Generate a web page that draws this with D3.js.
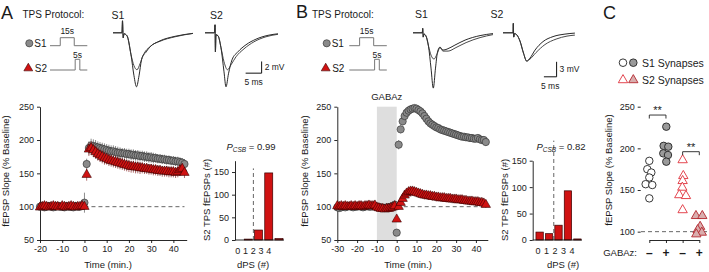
<!DOCTYPE html>
<html>
<head>
<meta charset="utf-8">
<script src="https://cdn.jsdelivr.net/npm/d3@7/dist/d3.min.js"></script>
<style>
  body { margin: 0; background: #fff; }
  svg { display: block; font-family: "Liberation Sans", Arial, sans-serif; }
</style>
</head>
<body>
<svg id="fig" width="709" height="272"></svg>
<script>
// ---- time course, panel A (min, % baseline) ----
var timeA = [-20,-19,-18,-17,-16,-15,-14,-13,-12,-11,-10,-9,-8,-7,-6,-5,-4,-3,-2,-1,
  0,1,2,3,4,5,6,7,8,9,10,11,12,13,14,15,16,17,18,19,20,21,22,23,24,25,26,27,28,29,
  30,31,32,33,34,35,36,37,38,39,40,41,42,43,44,45];
var s1A = [100,101,99,100,101,100,99,100,101,100,100,99,101,100,100,99,101,100,100,101,
  106,164,
  188,192,191,190,189,188,187,186,185,184,
  183,183,182,181,181,180,180,179,179,178,
  178,177,177,176,176,175,175,174,174,173,
  173,172,172,171,171,170,170,169,169,168,
  168,167,166,164];
var s1AErr = [3,3,3,3,3,3,3,3,3,3,3,3,3,3,3,3,3,3,3,3,
  15,8,
  10,10,10,10,9,9,9,9,9,9,
  9,9,9,9,8,8,8,8,8,8,
  8,8,8,8,8,8,8,8,8,8,
  7,7,7,7,7,7,7,7,7,7,
  7,7,7,7];
var s2A = [99,100,101,100,99,100,101,100,100,99,101,100,99,100,101,100,99,100,100,101,
  100,148,
  186,188,185,182,179,177,175,173,172,170,
  169,168,167,166,165,164,163,162,161,160,
  160,159,159,158,158,157,157,156,156,155,
  155,154,154,153,153,153,152,152,152,151,
  152,155,157,151];
var s2AErr = [3,3,3,3,3,3,3,3,3,3,3,3,3,3,3,3,3,3,3,3,
  3,9,
  10,10,10,10,10,10,10,10,9,9,
  9,9,9,9,9,9,9,9,9,9,
  9,9,9,9,8,8,8,8,8,8,
  8,8,8,8,8,8,8,8,8,8,
  8,8,8,8];

// ---- time course, panel B ----
var timeB = [-30,-29,-28,-27,-26,-25,-24,-23,-22,-21,-20,-19,-18,-17,-16,-15,-14,-13,-12,-11,
  -10,-9,-8,-7,-6,-5,-4,-3,-2,-1,
  0,1,2,3,4,5,6,7,8,9,10,11,12,13,14,15,16,17,18,19,20,21,22,23,24,25,26,27,28,29,
  30,31,32,33,34,35,36,37,38,39,40,41,42,43,44,45];
var s1B = [99,98,99,100,99,100,101,100,99,100,
  100,101,100,99,100,101,100,100,101,100,
  100,99,99,98,98,99,99,100,101,103,
  61,
  193,216,228,236,241,244,246,247,248,247,
  245,243,240,236,232,228,225,223,221,219,
  218,216,215,214,213,212,211,210,209,208,
  207,206,205,205,204,204,203,203,202,202,
  203,201,200,200,197];
var s1BErr = [3,3,3,3,3,3,3,3,3,3,3,3,3,3,3,3,3,3,3,3,3,3,3,3,3,3,3,3,3,3,
  5,
  7,6,6,6,5,5,5,5,5,5,
  5,5,5,5,5,5,5,5,5,5,
  5,5,5,5,5,5,5,5,5,5,
  5,5,5,5,5,5,5,5,5,5,
  5,5,5,5,6];
var s2B = [101,100,101,100,101,100,100,101,100,101,
  100,101,101,100,101,101,102,101,101,102,
  99,98,97,97,96,97,97,98,99,101,
  81,
  100,106,112,117,120,122,123,123,122,121,
  120,119,118,117,117,116,116,115,115,114,
  114,113,113,113,112,112,112,111,111,111,
  110,110,110,109,109,108,108,108,107,107,
  107,106,106,105,103];
var s2BErr = [3,3,3,3,3,3,3,3,3,3,3,3,3,3,3,3,3,3,3,3,3,3,3,3,3,3,3,3,3,3,
  3,
  5,6,6,6,6,6,6,6,6,6,
  6,6,6,6,6,6,6,6,6,6,
  6,6,6,6,6,6,6,6,6,6,
  5,5,5,5,5,5,5,5,5,5,
  5,5,5,5,5];

var yTicksMain = [50, 100, 150, 200, 250];
var xTicksA = [-20, -10, 0, 10, 20, 30, 40];
var xTicksB = [-30, -20, -10, 0, 10, 20, 30, 40];
var gabazWindow = [-10, 0];

// ---- dPS histograms ----
var dpsCats = [0, 1, 2, 3, 4];
var dpsA = [0, 2, 22, 148, 3];
var dpsB = [15, 12, 28, 93, 2];
var dpsTicksA = [0, 50, 100, 150];
var dpsTicksB = [0, 50, 100, 150];
var pcsbA = '0.99', pcsbB = '0.82';

// ---- panel C: per-slice potentiation ----
var cGroups = ['S1-', 'S1+', 'S2-', 'S2+'];
var cS1Ctrl = [185, 175, 171, 165, 157, 156, 140];
var cS1Gabaz = [226, 203, 202, 194, 192, 184];
var cS2Ctrl = [186, 167, 161, 153, 144, 143, 126];
var cS2Gabaz = [119, 119, 106, 102, 99, 97];
var jitS1Ctrl = [0, -0.12, 0.12, 0, -0.22, 0.18, 0];
var jitS1Gabaz = [0.02, -0.14, 0.14, -0.16, 0.12, 0.02];
var jitS2Ctrl = [0, 0.04, 0, -0.02, -0.2, 0.2, 0];
var jitS2Gabaz = [-0.2, 0.18, 0.05, -0.1, 0.15, -0.18];
var cTicks = [100, 150, 200, 250];

// ---- TPS protocol (s, off/on) ----
var protoS1 = [[0,0],[11,0],[11,1],[26,1],[26,0],[40,0]];
var protoS2 = [[0,0],[27,0],[27,1],[32,1],[32,0],[40,0]];

// ---- example traces (ms, mV) ----
var trA1 = [
  [[0,0],[2.5,0],[2.8,0],[2.97,2.05],[3.19,-0.85],[3.44,-0.17],[4.38,-0.51],[5.63,-3.76],[6.56,-7.35],[7.34,-9.23],[8.13,-7.35],[8.91,-4.62],[9.69,-3.59],[11.56,-2.39],[14.69,-1.37],[19.4,-0.6],[25,-0.1]],
  [[0,0],[2.5,0],[2.8,0],[2.97,2.05],[3.19,-0.85],[3.44,-0.17],[4.38,-0.51],[5.63,-3.76],[6.56,-5.64],[7.5,-6.32],[8.44,-5.3],[9.38,-3.93],[10.31,-3.33],[11.56,-2.39],[14.69,-1.45],[19.4,-0.68],[25,-0.1]]
];
var trA2 = [
  [[0,0],[2.5,0],[2.97,0],[3.13,1.37],[3.25,-3.25],[3.44,-0.34],[4.06,-0.5],[5,-2.56],[5.94,-6.67],[6.56,-9.23],[7.34,-7.0],[8.44,-4.62],[10.3,-3.25],[12.8,-2.05],[15.9,-1.1],[19.7,-0.43],[22.8,-0.17]],
  [[0,0],[2.5,0],[2.97,0],[3.13,1.37],[3.25,-3.25],[3.44,-0.34],[4.06,-0.5],[5,-2.56],[5.94,-4.96],[7.03,-6.32],[8.13,-5.47],[9.69,-4.1],[12.19,-2.74],[15.3,-1.54],[19.06,-0.68],[22.8,-0.26]]
];
var trB1 = [
  [[0,0],[3.15,0],[3.66,0],[3.82,0.88],[4.02,-0.86],[4.33,-0.26],[5.12,-0.66],[6.1,-2.66],[7.09,-7.06],[7.99,-11.06],[8.86,-7.06],[9.65,-3.86],[10.63,-2.86],[11.81,-3.46],[13.4,-3.26],[16.5,-2.46],[20.5,-1.46],[26.4,-0.56],[31.5,-0.16]],
  [[0,0],[3.15,0],[3.66,0],[3.82,0.88],[4.02,-0.86],[4.33,-0.26],[5.12,-0.66],[6.1,-2.66],[7.09,-4.46],[8.27,-5.26],[9.45,-4.26],[10.63,-2.96],[11.81,-3.66],[13.8,-3.66],[16.9,-2.96],[20.9,-1.96],[26.4,-0.96],[31.5,-0.36]]
];
var trB2 = [
  [[0,0],[3.54,0],[3.94,0],[4.06,1.88],[4.21,-0.86],[4.53,-0.16],[5.51,-0.46],[6.69,-1.66],[8.07,-4.06],[9.33,-5.66],[10.63,-5.06],[12.6,-3.46],[15.75,-1.76],[19.7,-0.76],[24.4,-0.26],[28.3,-0.06]],
  [[0,0],[3.54,0],[3.94,0],[4.06,1.88],[4.21,-0.86],[4.53,-0.16],[5.51,-0.46],[6.69,-1.66],[8.07,-4.06],[9.33,-5.66],[10.63,-5.26],[12.99,-3.96],[16.5,-2.36],[20.9,-1.26],[25.2,-0.66],[28.3,-0.46]]
];

var svg = d3.select('#fig');
var RED = '#d01212', RED_EDGE = '#3a0000', GREY = '#8a8a8a', GREY_EDGE = '#2a2a2a';

function label(x, y, s, size, anchor, rot) {
  var t = svg.append('text').attr('x', x).attr('y', y).text(s)
    .attr('font-size', size).attr('text-anchor', anchor || 'start').attr('fill', '#1a1a1a');
  if (rot) t.attr('transform', `rotate(-90,${x},${y})`);
  return t;
}

function styleAxis(g) {
  g.attr('font-family', null).attr('font-size', 9);
  g.select('.domain').attr('stroke', '#111').attr('stroke-width', 0.9);
  g.selectAll('.tick line').attr('stroke', '#111').attr('stroke-width', 0.9);
  g.selectAll('.tick text').attr('fill', '#222');
}

function drawSeries(g, x, y, t, v, e, kind) {
  var pts = t.map((d, i) => ({ t: d, v: v[i], e: e[i] }));
  var circ = kind === 'circle';
  g.append('g').selectAll('line').data(pts).join('line')
    .attr('x1', d => x(d.t)).attr('x2', d => x(d.t))
    .attr('y1', d => y(d.v - d.e)).attr('y2', d => y(d.v + d.e))
    .attr('stroke', circ ? '#707070' : '#9a4848').attr('stroke-width', 0.8);
  g.append('g').selectAll('path').data(pts).join('path')
    .attr('transform', d => `translate(${x(d.t)},${y(d.v)})`)
    .attr('d', d3.symbol().type(circ ? d3.symbolCircle : d3.symbolTriangle).size(circ ? 42 : 38))
    .attr('fill', circ ? GREY : RED)
    .attr('stroke', circ ? GREY_EDGE : RED_EDGE).attr('stroke-width', 0.6);
}

function timeCourse(c) {
  var x = d3.scaleLinear().domain(c.xDomain).range(c.xRange);
  var y = d3.scaleLinear().domain([50, 250]).range([240, 106.7]);
  var g = svg.append('g');
  if (c.drug) {
    g.append('rect')
      .attr('x', x(c.drug[0])).attr('y', y(250))
      .attr('width', x(c.drug[1]) - x(c.drug[0])).attr('height', y(50) - y(250))
      .attr('fill', '#dedede');
  }
  g.append('line')
    .attr('x1', x(0)).attr('x2', x(45)).attr('y1', y(100)).attr('y2', y(100))
    .attr('stroke', '#666').attr('stroke-width', 1).attr('stroke-dasharray', '4,3');
  g.append('g').attr('transform', `translate(${c.xRange[0]},0)`)
    .call(d3.axisLeft(y).tickValues(yTicksMain).tickSize(3).tickSizeOuter(0))
    .call(styleAxis);
  g.append('g').attr('transform', `translate(0,${y(50)})`)
    .call(d3.axisBottom(x).tickValues(c.xTicks).tickSize(3).tickSizeOuter(0).tickFormat(d => String(d)))
    .call(styleAxis);
  drawSeries(g, x, y, c.time, c.s1, c.s1Err, 'circle');
  drawSeries(g, x, y, c.time, c.s2, c.s2Err, 'triangle');
  return { x: x, y: y };
}

function histogram(c) {
  var xb = d3.scaleBand().domain(dpsCats).range(c.barRange).paddingInner(0.22).paddingOuter(0.1);
  var xl = d3.scalePoint().domain(dpsCats).range(c.labelRange);
  var y = d3.scaleLinear().domain([0, c.yMax]).range([240, 160.7]);
  var g = svg.append('g');
  var mid = (xb(1) + xb(2) + xb.bandwidth()) / 2;
  g.append('line').attr('x1', mid).attr('x2', mid).attr('y1', y(0)).attr('y2', y(c.dashTop))
    .attr('stroke', '#666').attr('stroke-width', 1).attr('stroke-dasharray', '4,3');
  g.selectAll('rect').data(c.values).join('rect')
    .attr('x', (d, i) => xb(dpsCats[i])).attr('width', xb.bandwidth())
    .attr('y', d => y(d)).attr('height', d => y(0) - y(d))
    .attr('fill', RED).attr('stroke', RED_EDGE).attr('stroke-width', 0.7);
  g.append('g').attr('transform', `translate(${c.axisX},0)`)
    .call(d3.axisLeft(y).tickValues(c.ticks).tickSize(3).tickSizeOuter(0))
    .call(styleAxis);
  g.append('line').attr('x1', c.axisX).attr('x2', c.barRange[1])
    .attr('y1', y(0)).attr('y2', y(0)).attr('stroke', '#111').attr('stroke-width', 0.9);
  g.selectAll('text.cat').data(dpsCats).join('text').attr('class', 'cat')
    .attr('x', d => xl(d)).attr('y', 254).attr('text-anchor', 'middle')
    .attr('font-size', 9).attr('fill', '#222').text(d => d);
  var p = g.append('text').attr('x', c.pX).attr('y', 150).attr('text-anchor', 'middle')
    .attr('font-size', 9.5).attr('fill', '#222');
  p.append('tspan').attr('font-style', 'italic').text('P');
  p.append('tspan').attr('font-style', 'italic').attr('font-size', 6.5).attr('dy', 2).text('CSB');
  p.append('tspan').attr('dy', -2).text(' = ' + c.p);
  label(c.axisX - 25, 200, 'S2 TPS fEPSPs (#)', 9.5, 'middle', true);
  label(c.pX + 2, 268, 'dPS (#)', 9.5, 'middle');
}

function protocol(c) {
  var x = d3.scaleLinear().domain([0, 40]).range(c.range);
  var y1 = d3.scaleLinear().domain([0, 1]).range([45.7, 37.7]);
  var y2 = d3.scaleLinear().domain([0, 1]).range([70, 59.3]);
  svg.append('path').datum(protoS1)
    .attr('d', d3.line().x(d => x(d[0])).y(d => y1(d[1])))
    .attr('fill', 'none').attr('stroke', '#777').attr('stroke-width', 1);
  svg.append('path').datum(protoS2)
    .attr('d', d3.line().x(d => x(d[0])).y(d => y2(d[1])))
    .attr('fill', 'none').attr('stroke', '#777').attr('stroke-width', 1);
  label(x(18.5), 33.5, '15s', 8.5, 'middle');
  label(x(29.5), 57.5, '5s', 8.5, 'middle');
  svg.append('circle').attr('cx', c.mark).attr('cy', 43.3).attr('r', 3.6)
    .attr('fill', GREY).attr('stroke', GREY_EDGE).attr('stroke-width', 0.6);
  svg.append('path').attr('transform', `translate(${c.mark - 1},68.3)`)
    .attr('d', d3.symbol().type(d3.symbolTriangle).size(34)())
    .attr('fill', RED).attr('stroke', RED_EDGE).attr('stroke-width', 0.6);
  label(c.mark + 5, 47, 'S1', 10);
  label(c.mark + 5.5, 71.5, 'S2', 10);
  label(c.title, 18, 'TPS Protocol:', 10);
}

function traces(sets, origins, msPer5, mvPerBar, mvBar) {
  sets.forEach(function (set, k) {
    var x = d3.scaleLinear().domain([0, 5]).range([origins[k], origins[k] + msPer5]);
    var y = d3.scaleLinear().domain([0, -mvBar]).range([32.8, 32.8 + mvPerBar]);
    var line = d3.line().x(d => x(d[0])).y(d => y(d[1])).curve(d3.curveMonotoneX);
    set.forEach(function (tr, j) {
      svg.append('path').datum(tr).attr('d', line)
        .attr('fill', 'none').attr('stroke', j === 0 ? '#111' : '#333').attr('stroke-width', 0.9);
    });
  });
}

function scaleBar(origin, msPer5, mvPerBar, mvBar, msAt, mvAt, mvText) {
  var x = d3.scaleLinear().domain([0, 5]).range([origin, origin + msPer5]);
  var y = d3.scaleLinear().domain([0, -mvBar]).range([32.8, 32.8 + mvPerBar]);
  svg.append('path')
    .attr('d', `M${x(msAt - 5)},${y(mvAt)}H${x(msAt)}V${y(mvAt + mvBar)}`)
    .attr('fill', 'none').attr('stroke', '#111').attr('stroke-width', 1);
  label(x(msAt) + 3, y(mvAt + mvBar / 2) + 3, mvText, 8.5);
  label(x(msAt - 2.5), y(mvAt) + 12, '5 ms', 8.5, 'middle');
}

// ---------- panel A ----------
label(1, 19, 'A', 18);
protocol({ range: [50, 87.3], mark: 29.3, title: 22.5 });
label(111.5, 19, 'S1', 10.5);
label(210, 19, 'S2', 10.5);
traces([trA1, trA2], [113, 205], 16, 11.7, 2);
scaleBar(205, 16, 11.7, 2, 17.7, -6.9, '2 mV');
timeCourse({ xDomain: [-20, 46], xRange: [40, 186.7], xTicks: xTicksA,
  time: timeA, s1: s1A, s1Err: s1AErr, s2: s2A, s2Err: s2AErr });
label(9, 171, 'fEPSP Slope (% Baseline)', 9.5, 'middle', true);
label(108, 268, 'Time (min.)', 9.5, 'middle');
histogram({ barRange: [233, 284], labelRange: [237.7, 268.7], yMax: 175, values: dpsA,
  ticks: dpsTicksA, axisX: 235, dashTop: 158, pX: 251, p: pcsbA });

// ---------- panel B ----------
label(296, 18, 'B', 18);
protocol({ range: [349.3, 386.8], mark: 326.7, title: 312 });
label(415, 18, 'S1', 10.5);
label(490.5, 18, 'S2', 10.5);
traces([trB1, trB2], [413, 503], 12.7, 15, 3);
scaleBar(503, 12.7, 15, 3, 21.1, -8.8, '3 mV');
var tcB = timeCourse({ xDomain: [-30, 46], xRange: [337.3, 487.8], xTicks: xTicksB, drug: gabazWindow,
  time: timeB, s1: s1B, s1Err: s1BErr, s2: s2B, s2Err: s2BErr });
label(tcB.x(-5), 100, 'GABAz', 9.5, 'middle');
label(308, 171, 'fEPSP Slope (% Baseline)', 9.5, 'middle', true);
label(408, 268, 'Time (min.)', 9.5, 'middle');
histogram({ barRange: [535, 582], labelRange: [538, 572], yMax: 150, values: dpsB,
  ticks: dpsTicksB, axisX: 532.7, dashTop: 188, pX: 561, p: pcsbB });

// ---------- panel C ----------
label(603, 19, 'C', 18);
(function () {
  var x = d3.scalePoint().domain(cGroups).range([649.3, 699.3]);
  var y = d3.scaleLinear().domain([90, 250]).range([240, 106.7]);
  var g = svg.append('g');
  g.append('line').attr('x1', 641).attr('x2', 707).attr('y1', y(100)).attr('y2', y(100))
    .attr('stroke', '#666').attr('stroke-width', 1).attr('stroke-dasharray', '4,3');
  g.append('g').attr('transform', 'translate(640.7,0)')
    .call(d3.axisLeft(y).tickValues(cTicks).tickSize(3).tickSizeOuter(0))
    .call(styleAxis);
  g.append('g').attr('transform', `translate(0,${y(90)})`)
    .call(d3.axisBottom(x).tickSize(3).tickSizeOuter(0).tickFormat(''))
    .call(styleAxis);
  g.select('g:last-child .domain').attr('d', `M640.7,0H705`);

  var groups = [
    { key: 'S1-', vals: cS1Ctrl, jit: jitS1Ctrl, shape: d3.symbolCircle, fill: '#fff', edge: '#222' },
    { key: 'S1+', vals: cS1Gabaz, jit: jitS1Gabaz, shape: d3.symbolCircle, fill: '#9a9a9a', edge: '#222' },
    { key: 'S2-', vals: cS2Ctrl, jit: jitS2Ctrl, shape: d3.symbolTriangle, fill: '#fff', edge: '#e0323c' },
    { key: 'S2+', vals: cS2Gabaz, jit: jitS2Gabaz, shape: d3.symbolTriangle, fill: '#d9aeae', edge: '#b3262e' }
  ];
  groups.forEach(function (gr) {
    g.append('g').selectAll('path').data(gr.vals).join('path')
      .attr('transform', (d, i) => `translate(${x(gr.key) + gr.jit[i] * x.step()},${y(d)})`)
      .attr('d', d3.symbol().type(gr.shape).size(gr.shape === d3.symbolCircle ? 44 : 38))
      .attr('fill', gr.fill).attr('stroke', gr.edge).attr('stroke-width', 0.9);
  });

  var brackets = [{ a: 'S1-', b: 'S1+', v: 240 }, { a: 'S2-', b: 'S2+', v: 196 }];
  brackets.forEach(function (br) {
    g.append('path')
      .attr('d', `M${x(br.a)},${y(br.v) + 3.5}V${y(br.v)}H${x(br.b)}V${y(br.v) + 3.5}`)
      .attr('fill', 'none').attr('stroke', '#222').attr('stroke-width', 0.9);
    label((x(br.a) + x(br.b)) / 2, y(br.v) - 1, '**', 11, 'middle');
  });

  label(637, 256, 'GABAz:', 9.5, 'end');
  cGroups.forEach(function (k) {
    label(x(k), 257, k.slice(-1) === '-' ? '\u2013' : '+', 12, 'middle').attr('font-weight', 'bold');
  });
  label(612, 170, 'fEPSP Slope (% Baseline)', 9.5, 'middle', true);

  // legend
  svg.append('circle').attr('cx', 623).attr('cy', 62.7).attr('r', 3.8)
    .attr('fill', '#fff').attr('stroke', '#222').attr('stroke-width', 0.9);
  svg.append('circle').attr('cx', 633.3).attr('cy', 62.7).attr('r', 3.8)
    .attr('fill', '#9a9a9a').attr('stroke', '#222').attr('stroke-width', 0.9);
  svg.append('path').attr('transform', 'translate(623,80)')
    .attr('d', d3.symbol().type(d3.symbolTriangle).size(38)())
    .attr('fill', '#fff').attr('stroke', '#e0323c').attr('stroke-width', 0.9);
  svg.append('path').attr('transform', 'translate(633.3,80)')
    .attr('d', d3.symbol().type(d3.symbolTriangle).size(38)())
    .attr('fill', '#d9aeae').attr('stroke', '#b3262e').attr('stroke-width', 0.9);
  label(642, 66.5, 'S1 Synapses', 10.5);
  label(642, 84, 'S2 Synapses', 10.5);
})();
</script>
</body>
</html>
